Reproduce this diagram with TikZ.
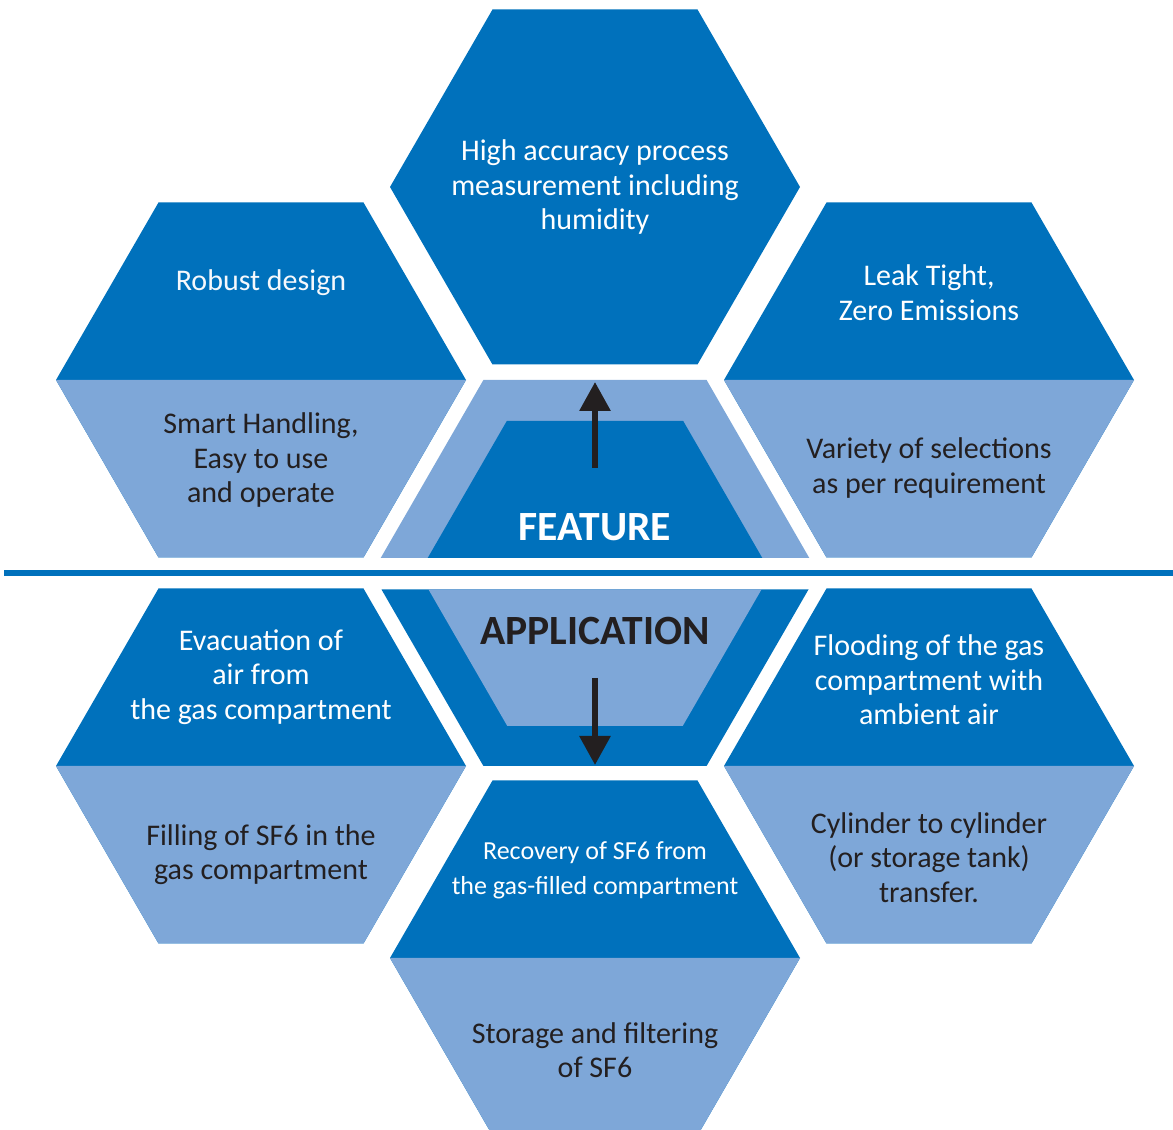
\documentclass[tikz,border=0pt]{standalone}
\usepackage{fontspec}
\setmainfont{Carlito}
\usetikzlibrary{calc, arrows.meta}

\definecolor{hexdark}{RGB}{0,113,188}
\definecolor{hexlight}{RGB}{126,167,216}
\definecolor{inkdark}{RGB}{35,31,32}

\tikzset{
  darkfill/.style={fill=hexdark},
  lightfill/.style={fill=hexlight},
  ontop/.style={align=center, text=white, font=\fontsize{15}{17.25}\selectfont},
  onlight/.style={align=center, text=inkdark, font=\fontsize{15}{17.25}\selectfont},
  bigword/.style={font=\fontsize{20.8}{24}\selectfont\bfseries},
  bigarrow/.style={line width=3pt, draw=inkdark, -{Triangle[length=14.5pt, width=15pt]}}
}

% full hexagon, R = 205
\newcommand{\hexfull}[2]{%
  \fill[#2] ($(#1)+(-205,0)$) -- ($(#1)+(-102.5,177.5)$) -- ($(#1)+(102.5,177.5)$)
    -- ($(#1)+(205,0)$) -- ($(#1)+(102.5,-177.5)$) -- ($(#1)+(-102.5,-177.5)$) -- cycle;}
% lower half of a hexagon
\newcommand{\hexlow}[2]{%
  \fill[#2] ($(#1)+(-205,0)$) -- ($(#1)+(205,0)$) -- ($(#1)+(102.5,-177.5)$)
    -- ($(#1)+(-102.5,-177.5)$) -- cycle;}

\begin{document}
\begin{tikzpicture}[x=0.5pt, y=0.5pt]
  \useasboundingbox (0,0) rectangle (1173,1130);

  % hexagon centres
  \coordinate (top) at (595,943);
  \coordinate (ul) at (261,750);
  \coordinate (ur) at (929,750);
  \coordinate (ll) at (261,364);
  \coordinate (lr) at (929,364);
  \coordinate (bot) at (595,172);
  \coordinate (mid) at (595,557);

  \hexfull{top}{darkfill}
  \hexfull{ul}{darkfill}  \hexlow{ul}{lightfill}
  \hexfull{ur}{darkfill}  \hexlow{ur}{lightfill}
  \hexfull{ll}{darkfill}  \hexlow{ll}{lightfill}
  \hexfull{lr}{darkfill}  \hexlow{lr}{lightfill}
  \hexfull{bot}{darkfill} \hexlow{bot}{lightfill}

  % centre hexagon, cut by the line
  \fill[lightfill] ($(mid)+(-214.3,15)$) -- ($(mid)+(214.3,15)$) -- ($(mid)+(111.6,193)$) -- ($(mid)+(-111.6,193)$) -- cycle;
  \fill[darkfill] ($(mid)+(-167.3,15)$) -- ($(mid)+(167.3,15)$) -- ($(mid)+(88.2,152)$) -- ($(mid)+(-88.2,152)$) -- cycle;
  \fill[darkfill] ($(mid)+(-213.5,-16.5)$) -- ($(mid)+(213.5,-16.5)$) -- ($(mid)+(111.6,-193)$) -- ($(mid)+(-111.6,-193)$) -- cycle;
  \fill[lightfill] ($(mid)+(-166.5,-16.5)$) -- ($(mid)+(166.5,-16.5)$) -- ($(mid)+(87.7,-153)$) -- ($(mid)+(-87.7,-153)$) -- cycle;

  \coordinate (lineleft) at (4,557);
  \coordinate (lineright) at (1173,557);
  \draw[hexdark, line width=2.9pt] (lineleft) -- (lineright);

  % texts
  \node[ontop] (high) at (595,942.5) {High accuracy process\\measurement including\\humidity};
  \node[ontop, text=white!92!hexlight] (robust) at (261,847.5) {Robust design};
  \node[onlight] (smart) at (261,669.5) {Smart Handling,\\Easy to use\\and operate};
  \node[ontop] (leak) at (929,837.5) {Leak Tight,\\Zero Emissions};
  \node[onlight] (variety) at (929,662) {Variety of selections\\as per requirement};
  \node[ontop] (evac) at (261,453) {Evacuation of\\air from\\the gas compartment};
  \node[onlight] (filling) at (261,275.5) {Filling of SF6 in the\\gas compartment};
  \node[ontop] (flooding) at (929,450) {Flooding of the gas\\compartment with\\ambient air};
  \node[onlight] (cylinder) at (929,272.5) {Cylinder to cylinder\\(or storage tank)\\transfer.};
  \node[ontop, font=\fontsize{13}{17.25}\selectfont] (recovery) at (595,259.5) {Recovery of SF6 from\\the gas-filled compartment};
  \node[onlight] (storage) at (595,80) {Storage and filtering\\of SF6};

  \node[bigword, text=white] (feature) at (595,603) {FEATURE};
  \node[bigword, text=inkdark] (application) at (595,499) {APPLICATION};

  % arrows
  \coordinate (upfrom) at (595,662);
  \coordinate (upto) at (595,748);
  \coordinate (downfrom) at (595,452);
  \coordinate (downto) at (595,365);
  \draw[bigarrow] (upfrom) -- (upto);
  \draw[bigarrow] (downfrom) -- (downto);
\end{tikzpicture}
\end{document}
